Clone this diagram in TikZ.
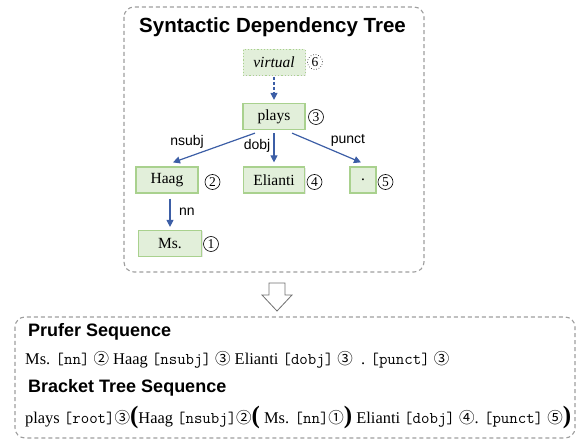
\documentclass[tikz,border=0pt]{standalone}
\usepackage{fontspec}
\setmainfont{Liberation Serif}
\setsansfont{Liberation Sans}
\newfontfamily\cjk{Noto Sans CJK SC}
\usetikzlibrary{arrows.meta,shadows}

\definecolor{boxfill}{HTML}{E2EFDA}
\definecolor{boxline}{HTML}{A9D18E}
\definecolor{arrowblue}{HTML}{3C5EA6}
\definecolor{framegray}{HTML}{9E9E9E}
\definecolor{hollowgray}{HTML}{707070}

% circled index inside running text, and the large bold brackets
\newcommand\cidx[1]{{\cjk\fontsize{15.5}{17}\selectfont #1}}
\newcommand\bparen[1]{{\fontsize{25}{25}\selectfont\bfseries #1}}

\begin{document}
\begin{tikzpicture}[x=1pt,y=-1pt,
  frame/.style={draw=framegray, dash pattern=on 4pt off 3pt, line width=1.1pt, rounded corners=10pt},
  word/.style={draw=boxline, fill=boxfill, line width=1.2pt, minimum height=26pt, inner sep=0pt,
    font=\fontsize{15.5}{18}\selectfont,
    drop shadow={opacity=0.18, shadow xshift=1pt, shadow yshift=-1pt}},
  idx/.style={circle, draw, line width=0.6pt, inner sep=0pt, minimum size=15pt, font=\fontsize{13.5}{15}\selectfont},
  dep/.style={draw=arrowblue, line width=1.2pt, -{Triangle[length=7pt,width=7pt]}},
  rel/.style={font=\sffamily\fontsize{14}{16}\selectfont, inner sep=0pt},
  heading/.style={font=\sffamily\bfseries\fontsize{18}{21}\selectfont, anchor=base west, inner sep=0pt},
  seq/.style={font=\fontsize{16.4}{19}\selectfont, anchor=base west, inner sep=0pt}
]
\useasboundingbox (0,0) rectangle (582,441);

% ---- dependency tree ----
\draw[frame] (124,7) rectangle (424,272);
\node[font=\sffamily\bfseries\fontsize{20.5}{24}\selectfont, anchor=base, inner sep=0pt] (title) at (272.5,33) {Syntactic Dependency Tree};

\node[word, minimum width=62pt, dotted, line width=1pt, font=\itshape\fontsize{15.5}{18}\selectfont] (virtual) at (274,62.5) {virtual};
\node[word, minimum width=62pt] (plays) at (274,116.5) {plays};
\node[word, minimum width=62pt] (haag) at (167,180) {Haag};
\node[word, minimum width=61pt] (elianti) at (274,180) {Elianti};
\node[word, minimum width=26pt] (dot) at (363,180) {.};
\node[word, minimum width=63pt] (ms) at (170,243.5) {Ms.};

\node[idx, dotted] (i6) at (315,62) {6};
\node[idx] (i3) at (316,117) {3};
\node[idx] (i2) at (212.5,182) {2};
\node[idx] (i4) at (314.5,182) {4};
\node[idx] (i5) at (385.5,182) {5};
\node[idx] (i1) at (211,244) {1};

\draw[dep, dash pattern=on 3pt off 2pt] ([yshift=-1pt]virtual.south) -- ([yshift=3pt]plays.north);
\draw[dep] ([xshift=-19pt,yshift=-3pt]plays.south) -- ([xshift=6pt,yshift=4pt]haag.north);
\draw[dep] ([yshift=-3pt]plays.south) -- ([yshift=4pt]elianti.north);
\draw[dep] ([xshift=18pt,yshift=-3pt]plays.south) -- ([xshift=-2pt,yshift=4pt]dot.north);
\draw[dep] ([xshift=3pt,yshift=-5pt]haag.south) -- ([yshift=3pt]ms.north);

\node[rel] (lnsubj) at (187,142) {nsubj};
\node[rel] (ldobj) at (257,146) {dobj};
\node[rel] (lpunct) at (348,140) {punct};
\node[rel] (lnn) at (187,212) {nn};

% ---- hollow arrow between the panels ----
\draw[hollowgray, line width=0.8pt, fill=white, line join=miter]
  (269,283) -- (285,283) -- (285,295) -- (292,295) -- (277,311) -- (262,295) -- (269,295) -- cycle;

% ---- sequences ----
\draw[frame] (15,317) rectangle (575,438);
\node[heading] (h1) at (28,337) {Prufer Sequence};
\node[seq] (s1) at (25,365) {Ms. \texttt{[nn]} \cidx{②} Haag \texttt{[nsubj]} \cidx{③} Elianti \texttt{[dobj]} \cidx{③} \ . \texttt{[punct]} \cidx{③}};
\node[heading] (h2) at (28,392) {Bracket Tree Sequence};
\node[seq] (s2) at (25,423) {plays \texttt{[root]}\cidx{③}\bparen{(}Haag \texttt{[nsubj]}\cidx{②}\bparen{(} Ms. \texttt{[nn]}\cidx{①}\bparen{)} Elianti \texttt{[dobj]} \cidx{④}. \texttt{[punct]} \cidx{⑤}\bparen{)}};
\end{tikzpicture}
\end{document}
